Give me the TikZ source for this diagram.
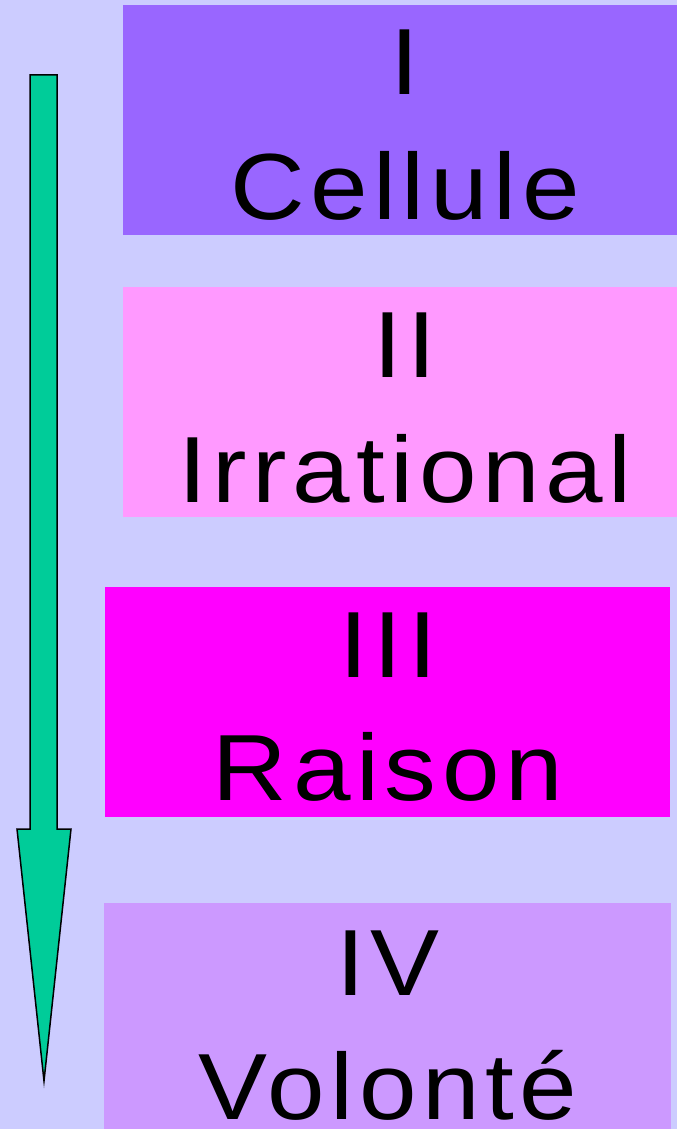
\documentclass[tikz,border=0pt]{standalone}
\usepackage{fontspec}
\newfontfamily\labfont[LetterSpace=6,FakeStretch=1.1]{Liberation Sans}
\definecolor{bgc}{HTML}{CCCCFF}
\definecolor{cone}{HTML}{9966FF}
\definecolor{ctwo}{HTML}{FF99FF}
\definecolor{cthree}{HTML}{FF00FF}
\definecolor{cfour}{HTML}{CC99FF}
\definecolor{arrowc}{HTML}{00CC99}
\begin{document}
\begin{tikzpicture}[x=1pt,y=-1pt,
  levelbox/.style={draw=none,inner sep=0pt,outer sep=0pt,anchor=north west},
  levellabel/.style={inner sep=0pt,anchor=base,text depth=0pt,font=\labfont\fontsize{94}{100}\selectfont}]
\fill[bgc] (0,0) rectangle (677,1129);
\useasboundingbox (0,0) rectangle (677,1129);
% boxes
\node[levelbox,fill=cone,minimum width=554pt,minimum height=230pt] (b1) at (123,5) {};
\node[levelbox,fill=ctwo,minimum width=554pt,minimum height=230pt] (b2) at (123,287) {};
\node[levelbox,fill=cthree,minimum width=565pt,minimum height=230pt] (b3) at (105,587) {};
\node[levelbox,fill=cfour,minimum width=567pt,minimum height=226pt] (b4) at (104,903) {};
% labels
\node[levellabel] (n1) at (405,95) {I};
\node[levellabel] (t1) at (405,219) {Cellule};
\node[levellabel] (n2) at (405,377) {II};
\node[levellabel] (t2) at (405,502) {Irrational};
\node[levellabel] (n3) at (388,677) {III};
\node[levellabel] (t3) at (388,800) {Raison};
\node[levellabel] (n4) at (388,995) {IV};
\node[levellabel] (t4) at (388,1119) {Volonté};
% arrow
\draw[fill=arrowc,draw=black,line width=1.5pt,line join=miter]
  (30,75) -- (57,75) -- (57,829) -- (71,829) -- (44,1081) -- (17,829) -- (30,829) -- cycle;
\end{tikzpicture}
\end{document}
